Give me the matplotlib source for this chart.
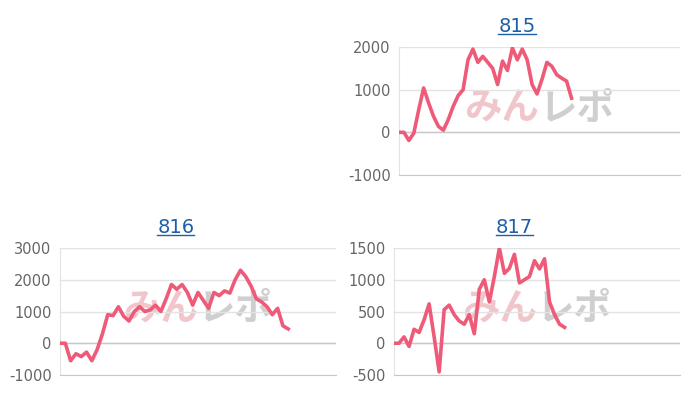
import matplotlib.pyplot as plt

plt.rcParams['font.family'] = ['DejaVu Sans', 'Noto Sans CJK JP']
plt.rcParams['axes.unicode_minus'] = False

titles = ['815', '816', '817']
v815 = [0, 0, -190, -20, 530, 1040, 690, 375, 140, 50, 300, 610, 860, 1000, 1700, 1950,
        1640, 1780, 1640, 1500, 1120, 1670, 1450, 1980, 1700, 1950, 1700, 1120, 900, 1240,
        1640, 1550, 1350, 1270, 1200, 800]
v816 = [0, 0, -550, -330, -420, -280, -550, -200, 300, 900, 870, 1150, 850, 700, 1000, 1150,
        1000, 1050, 1200, 1000, 1400, 1850, 1700, 1850, 1600, 1200, 1600, 1350, 1100, 1600,
        1500, 1650, 1580, 2000, 2300, 2100, 1800, 1400, 1300, 1150, 900, 1100, 550, 450]
v817 = [0, 0, 100, -50, 220, 170, 370, 620, 100, -450, 530, 600, 450, 350, 300, 450, 150,
        850, 1000, 650, 1050, 1500, 1100, 1180, 1400, 950, 1000, 1050, 1300, 1170, 1330, 650,
        450, 300, 250]
series = [v815, v816, v817]
yticks = [[-1000, 0, 1000, 2000], [-1000, 0, 1000, 2000, 3000], [-500, 0, 500, 1000, 1500]]
xmax = [57, 52, 57]

# axes rectangles in figure fractions (700x400 px)
rects = [(399/700, 1-175/400, 281/700, 128/400),
         (60/700, 1-375/400, 276/700, 127/400),
         (394/700, 1-375/400, 286/700, 127/400)]

fig = plt.figure(figsize=(7, 4), dpi=100)
for rect, t, vals, yt, xm in zip(rects, titles, series, yticks, xmax):
    ax = fig.add_axes(rect)
    ax.plot(range(len(vals)), vals, color='#ee5a78', linewidth=2.6, zorder=3)
    ax.set_xlim(0, xm)
    ax.set_ylim(yt[0], yt[-1])
    ax.set_yticks(yt)
    ax.set_xticks([])
    ax.grid(axis='y', color='#e3e3e3', linewidth=1)
    ax.axhline(0, color='#c8c8c8', linewidth=1, zorder=2)
    for s in ['top', 'right']:
        ax.spines[s].set_visible(False)
    ax.spines['left'].set_color('#e3e3e3')
    ax.spines['bottom'].set_color('#c8c8c8')
    ax.tick_params(axis='y', length=0, labelsize=10.5, labelcolor='#666666', pad=6)
    ttl = ax.set_title(t, fontsize=14, color='#1f5fa8', pad=11, x=0.42)
    ax.text(0.5, 0.52, 'みん', transform=ax.transAxes, ha='right', va='center',
            fontsize=27, fontweight='bold', style='italic', color='#e8a0a8', alpha=0.6,
            family='Noto Sans CJK JP', zorder=1)
    ax.text(0.5, 0.52, 'レポ', transform=ax.transAxes, ha='left', va='center',
            fontsize=27, fontweight='bold', style='italic', color='#b0b0b0', alpha=0.6,
            family='Noto Sans CJK JP', zorder=1)
    # underline for title link
    fig.canvas.draw()
    bb = ttl.get_window_extent()
    y = bb.y0 / 400 + 0.004
    fig.add_artist(plt.Line2D([bb.x0/700, bb.x1/700], [y, y], color='#1f5fa8', linewidth=1))

fig.savefig('out.png', dpi=100)
